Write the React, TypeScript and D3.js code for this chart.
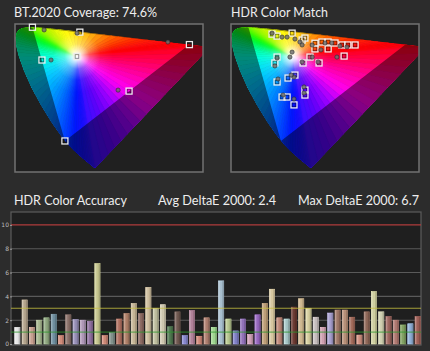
import React, { useEffect, useRef } from 'react';
import * as d3 from 'd3';

const W = 430;
const H = 351;

// CIE 1931 spectral locus (xy), 380nm .. 700nm
const locusNm = [380, 420, 440, 450, 460, 465, 470, 475, 480, 485, 490, 495, 500, 505, 510, 515, 520, 525, 530, 535, 540, 545, 550, 555, 560, 570, 580, 590, 600, 610, 620, 640, 700];
const locusX = [0.1741, 0.1714, 0.1644, 0.1566, 0.1440, 0.1355, 0.1241, 0.1096, 0.0913, 0.0687, 0.0454, 0.0235, 0.0082, 0.0039, 0.0139, 0.0389, 0.0743, 0.1142, 0.1547, 0.1929, 0.2296, 0.2658, 0.3016, 0.3373, 0.3731, 0.4441, 0.5125, 0.5752, 0.6270, 0.6658, 0.6915, 0.7190, 0.7347];
const locusY = [0.0050, 0.0051, 0.0109, 0.0177, 0.0297, 0.0399, 0.0578, 0.0868, 0.1327, 0.2007, 0.2950, 0.4127, 0.5384, 0.6548, 0.7502, 0.8120, 0.8338, 0.8262, 0.8059, 0.7816, 0.7543, 0.7243, 0.6923, 0.6589, 0.6245, 0.5547, 0.4866, 0.4242, 0.3725, 0.3340, 0.3083, 0.2809, 0.2653];
const locusColors = ['#3a10ff', '#3010ff', '#2010ff', '#1410ff', '#0018ff', '#0030ff', '#0050ff', '#0078ff', '#00a0ff', '#00c8ff', '#00e8f0', '#00ffd8', '#00ffa8', '#00ff70', '#00ff40', '#10ff20', '#28ff10', '#48ff00', '#68ff00', '#88ff00', '#a4ff00', '#bcff00', '#d4ff00', '#ecff00', '#ffff00', '#ffd800', '#ff9800', '#ff5800', '#ff2800', '#ff1010', '#ff0008', '#ff0010', '#ff0020'];
// line of purples, red end -> violet end
const purpleColors = ['#ff0020', '#ff0060', '#ff00a8', '#ff00f0', '#a000ff', '#6000f8', '#3a10ff'];

// BT.2020 primaries R, G, B and D65, in u'v'
const bt2020 = [[0.5566, 0.5165], [0.0556, 0.5868], [0.1593, 0.1258]];
const whitePoint = [0.1978, 0.4683];

// BT.2020 coverage panel
const coverageTargets = [[0.0556, 0.5868], [0.207, 0.567], [0.1978, 0.4683], [0.086, 0.454], [0.5566, 0.5165], [0.364, 0.328], [0.1593, 0.1258]];
const coverageMeasured = [[0.093, 0.576], [0.198, 0.563], [0.115, 0.454], [0.488, 0.527], [0.329, 0.332]];

// HDR color match panel
const matchTargets = [[0.131, 0.559], [0.147, 0.551], [0.195, 0.563], [0.227, 0.535], [0.236, 0.543], [0.268, 0.522], [0.290, 0.527], [0.310, 0.527], [0.332, 0.523], [0.354, 0.515], [0.373, 0.515], [0.396, 0.515], [0.268, 0.499], [0.310, 0.499], [0.361, 0.470], [0.252, 0.466], [0.230, 0.442], [0.281, 0.442], [0.147, 0.466], [0.140, 0.442], [0.204, 0.393], [0.182, 0.381], [0.147, 0.365], [0.236, 0.332], [0.236, 0.312], [0.163, 0.304], [0.179, 0.304], [0.201, 0.272]];
const matchMeasured = [[0.131, 0.563], [0.163, 0.547], [0.179, 0.547], [0.204, 0.539], [0.220, 0.527], [0.227, 0.515], [0.259, 0.515], [0.287, 0.495], [0.300, 0.523], [0.322, 0.523], [0.348, 0.511], [0.370, 0.507], [0.338, 0.466], [0.195, 0.486], [0.188, 0.466], [0.147, 0.462], [0.140, 0.430], [0.227, 0.446], [0.259, 0.466], [0.278, 0.446], [0.201, 0.385], [0.192, 0.393], [0.150, 0.377], [0.233, 0.345], [0.233, 0.320], [0.166, 0.312], [0.201, 0.296]];

// HDR color accuracy bars
const deltaE = [1.4, 3.7, 1.4, 2.0, 2.2, 2.5, 0.7, 2.45, 2.05, 2.0, 1.9, 6.75, 0.7, 0.95, 2.1, 2.55, 3.4, 2.55, 4.75, 3.0, 3.3, 1.45, 2.7, 0.7, 2.8, 0.65, 2.2, 1.4,
  5.3, 2.1, 1.1, 2.1, 0.8, 2.45, 3.4, 4.6, 2.2, 2.1, 3.1, 3.8, 3.0, 2.25, 1.4, 2.6, 2.85, 2.85, 2.25, 0.75, 2.7, 4.4, 2.7, 2.3, 2.0, 1.6, 1.7, 2.3];
const patchColors = ['#e8e8e8', '#b8a890', '#c8a090', '#a8b890', '#90a880', '#7090a0', '#d08a78', '#8a7068', '#9890b8', '#b098b8', '#9070a0', '#c8c890', '#d08a78', '#80908a', '#b07060', '#b08068', '#c8b898', '#8a6860', '#d0c0a0', '#c0c0a0', '#d0c8b0', '#507850', '#705850', '#8888d0', '#b08098', '#d08878', '#b08070', '#a0d890',
  '#a8c0d0', '#b8c890', '#8080c8', '#9070b8', '#d0a0b8', '#9868c0', '#c0a078', '#d8c8a0', '#c08878', '#a8c8c8', '#6a3830', '#d0b890', '#d8d0a0', '#c8c0c0', '#d0a0b0', '#a8a0d0', '#a07868', '#b89078', '#a06858', '#d09080', '#906858', '#d0d0a0', '#d0d0b0', '#a06860', '#b07870', '#80a060', '#90b0d8', '#a06058'];
const yTicks = [0, 2, 4, 6, 8, 10];

const toUV = (x: number, y: number) => {
  const d = -2 * x + 12 * y + 3;
  return [4 * x / d, 9 * y / d];
};

const App = () => {
  const svgRef = useRef<SVGSVGElement>(null);

  useEffect(() => {
    const svg = d3.select(svgRef.current);
    svg.selectAll('*').remove();
    const defs = svg.append('defs');

    svg.append('rect').attr('width', W).attr('height', H).attr('fill', '#2c2c2c');

    // gamut panel
    const drawGamut = (key: string, x0: number, targets: number[][], measured: number[][]) => {
      const xs = d3.scaleLinear().domain([0, 0.6]).range([x0, x0 + 188]);
      const ys = d3.scaleLinear().domain([0, 0.6]).range([172, 24]);
      const toPx = (p: number[]) => [xs(p[0]), ys(p[1])] as [number, number];

      const locus = locusX.map((x, i) => toPx(toUV(x, locusY[i])));
      const locusD = d3.line()(locus) + 'Z';
      const triD = d3.line()(bt2020.map(toPx)) + 'Z';
      const wp = toPx(whitePoint);

      defs.append('clipPath').attr('id', `frame-${key}`)
        .append('rect').attr('x', x0).attr('y', 24).attr('width', 188).attr('height', 148);
      defs.append('clipPath').attr('id', `locus-${key}`).append('path').attr('d', locusD);
      const glow = defs.append('radialGradient').attr('id', `glow-${key}`)
        .attr('gradientUnits', 'userSpaceOnUse')
        .attr('cx', wp[0]).attr('cy', wp[1]).attr('r', 36);
      [[0, 1], [0.12, 0.85], [0.35, 0.33], [0.65, 0.07], [1, 0]].forEach(([o, a]) =>
        glow.append('stop').attr('offset', o).attr('stop-color', '#fff').attr('stop-opacity', a));

      svg.append('rect')
        .attr('x', x0).attr('y', 24).attr('width', 188).attr('height', 148)
        .attr('fill', '#202020');

      const inner = svg.append('g').attr('clip-path', `url(#frame-${key})`)
        .append('g').attr('clip-path', `url(#locus-${key})`);

      // hue fan from the white point
      const edge = locus.map((p, i) => ({ p, c: locusColors[i] }));
      const red = locus[locus.length - 1];
      const violet = locus[0];
      for (let k = 1; k < purpleColors.length - 1; k++) {
        const t = k / (purpleColors.length - 1);
        edge.push({ p: [red[0] + (violet[0] - red[0]) * t, red[1] + (violet[1] - red[1]) * t], c: purpleColors[k] });
      }
      edge.forEach((a, i) => {
        const b = edge[(i + 1) % edge.length];
        const steps = 3;
        for (let s = 0; s < steps; s++) {
          const t0 = s / steps;
          const t1 = (s + 1) / steps;
          const p0 = [a.p[0] + (b.p[0] - a.p[0]) * t0, a.p[1] + (b.p[1] - a.p[1]) * t0];
          const p1 = [a.p[0] + (b.p[0] - a.p[0]) * t1, a.p[1] + (b.p[1] - a.p[1]) * t1];
          const col = d3.interpolateRgb(a.c, b.c)((t0 + t1) / 2);
          inner.append('path')
            .attr('d', `M${wp}L${p0}L${p1}Z`)
            .attr('fill', col)
            .attr('stroke', col)
            .attr('stroke-width', 0.7);
        }
      });
      inner.append('rect')
        .attr('x', x0).attr('y', 24).attr('width', 188).attr('height', 148)
        .attr('fill', `url(#glow-${key})`);
      // darker outside the BT.2020 triangle
      inner.append('path')
        .attr('d', locusD + triD)
        .attr('fill-rule', 'evenodd')
        .attr('fill', '#000')
        .attr('opacity', 0.45);

      svg.append('rect')
        .attr('x', x0).attr('y', 24).attr('width', 188).attr('height', 148)
        .attr('fill', 'none')
        .attr('stroke', '#727272')
        .attr('stroke-width', 1.5);

      const mk = svg.append('g');
      targets.forEach(t => {
        const [x, y] = toPx(t);
        mk.append('rect').attr('x', x - 3).attr('y', y - 3).attr('width', 6).attr('height', 6)
          .attr('fill', 'none').attr('stroke', '#ececec').attr('stroke-width', 1.3);
        mk.append('rect').attr('x', x - 1.8).attr('y', y - 1.8).attr('width', 3.6).attr('height', 3.6)
          .attr('fill', 'none').attr('stroke', 'rgba(0,0,0,0.55)').attr('stroke-width', 0.7);
      });
      measured.forEach(m => {
        const [x, y] = toPx(m);
        mk.append('circle').attr('cx', x).attr('cy', y).attr('r', 2.1)
          .attr('fill', '#6e6e6e').attr('fill-opacity', 0.85)
          .attr('stroke', '#2a2a2a').attr('stroke-width', 0.6);
      });
    };

    drawGamut('cov', 15, coverageTargets, coverageMeasured);
    drawGamut('match', 231, matchTargets, matchMeasured);

    // titles
    const title = (txt: string, x: number, y: number, len: number) =>
      svg.append('text')
        .attr('x', x).attr('y', y)
        .attr('textLength', len)
        .attr('lengthAdjust', 'spacingAndGlyphs')
        .attr('fill', '#eeeeee')
        .style('font-family', 'Lato, "Open Sans", sans-serif')
        .style('font-size', '13px')
        .text(txt);
    title('BT.2020 Coverage: 74.6%', 14, 17, 143);
    title('HDR Color Match', 231, 17, 97);
    title('HDR Color Accuracy', 14, 205, 113);
    title('Avg DeltaE 2000: 2.4', 158, 205, 118);
    title('Max DeltaE 2000: 6.7', 298, 205, 121);

    // bar chart
    const xb = d3.scaleBand<number>()
      .domain(d3.range(deltaE.length))
      .range([14, 421])
      .paddingInner(0.28)
      .paddingOuter(0.1);
    const yb = d3.scaleLinear().domain([0, 11]).range([344, 213]);

    const sheen = defs.append('linearGradient').attr('id', 'sheen').attr('x1', 0).attr('x2', 1).attr('y1', 0).attr('y2', 0);
    [[0, '#fff', 0.35], [0.3, '#fff', 0.1], [0.6, '#000', 0], [1, '#000', 0.3]].forEach(([o, c, a]) =>
      sheen.append('stop').attr('offset', o).attr('stop-color', c).attr('stop-opacity', a));

    svg.append('rect')
      .attr('x', 11).attr('y', 212).attr('width', 410).attr('height', 133)
      .attr('fill', '#1f1f1f')
      .attr('stroke', '#5c5c5c')
      .attr('stroke-width', 1.2);

    svg.append('g').selectAll('line')
      .data([2, 4, 6, 8])
      .enter()
      .append('line')
      .attr('x1', 11).attr('x2', 421)
      .attr('y1', d => yb(d)).attr('y2', d => yb(d))
      .attr('stroke', '#5a5a5a')
      .attr('stroke-width', 1.1);

    svg.append('line')
      .attr('x1', 11).attr('x2', 421).attr('y1', yb(10)).attr('y2', yb(10))
      .attr('stroke', '#b03c3c').attr('stroke-width', 1.3);

    const bars = svg.append('g');
    bars.selectAll('rect.bar')
      .data(deltaE)
      .enter()
      .append('rect')
      .attr('class', 'bar')
      .attr('x', (d, i) => xb(i))
      .attr('y', d => yb(d))
      .attr('width', xb.bandwidth())
      .attr('height', d => yb(0) - yb(d))
      .attr('fill', (d, i) => patchColors[i])
      .attr('stroke', (d, i) => d3.color(patchColors[i]).brighter(0.5).formatHex())
      .attr('stroke-width', 0.6);
    bars.selectAll('rect.sheen')
      .data(deltaE)
      .enter()
      .append('rect')
      .attr('class', 'sheen')
      .attr('x', (d, i) => xb(i))
      .attr('y', d => yb(d))
      .attr('width', xb.bandwidth())
      .attr('height', d => yb(0) - yb(d))
      .attr('fill', 'url(#sheen)');

    svg.append('line')
      .attr('x1', 11).attr('x2', 421).attr('y1', yb(3)).attr('y2', yb(3))
      .attr('stroke', '#c8c040').attr('stroke-width', 1.2).attr('opacity', 0.8);
    svg.append('line')
      .attr('x1', 11).attr('x2', 421).attr('y1', yb(1)).attr('y2', yb(1))
      .attr('stroke', '#2e9a2e').attr('stroke-width', 1).attr('opacity', 0.8);

    const axis = svg.append('g')
      .attr('transform', 'translate(12,0)')
      .call(d3.axisLeft(yb).tickValues(yTicks).tickSize(2).tickPadding(1));
    axis.select('.domain').remove();
    axis.attr('font-size', 6).attr('font-family', '"DejaVu Sans", sans-serif');
    axis.selectAll('text').attr('fill', '#bdbdbd');
    axis.selectAll('line').attr('stroke', '#9a9a9a');
  }, []);

  return (
    <svg ref={svgRef} width={W} height={H} style={{ position: 'absolute', left: 0, top: 0 }}></svg>
  );
};

export default App;
